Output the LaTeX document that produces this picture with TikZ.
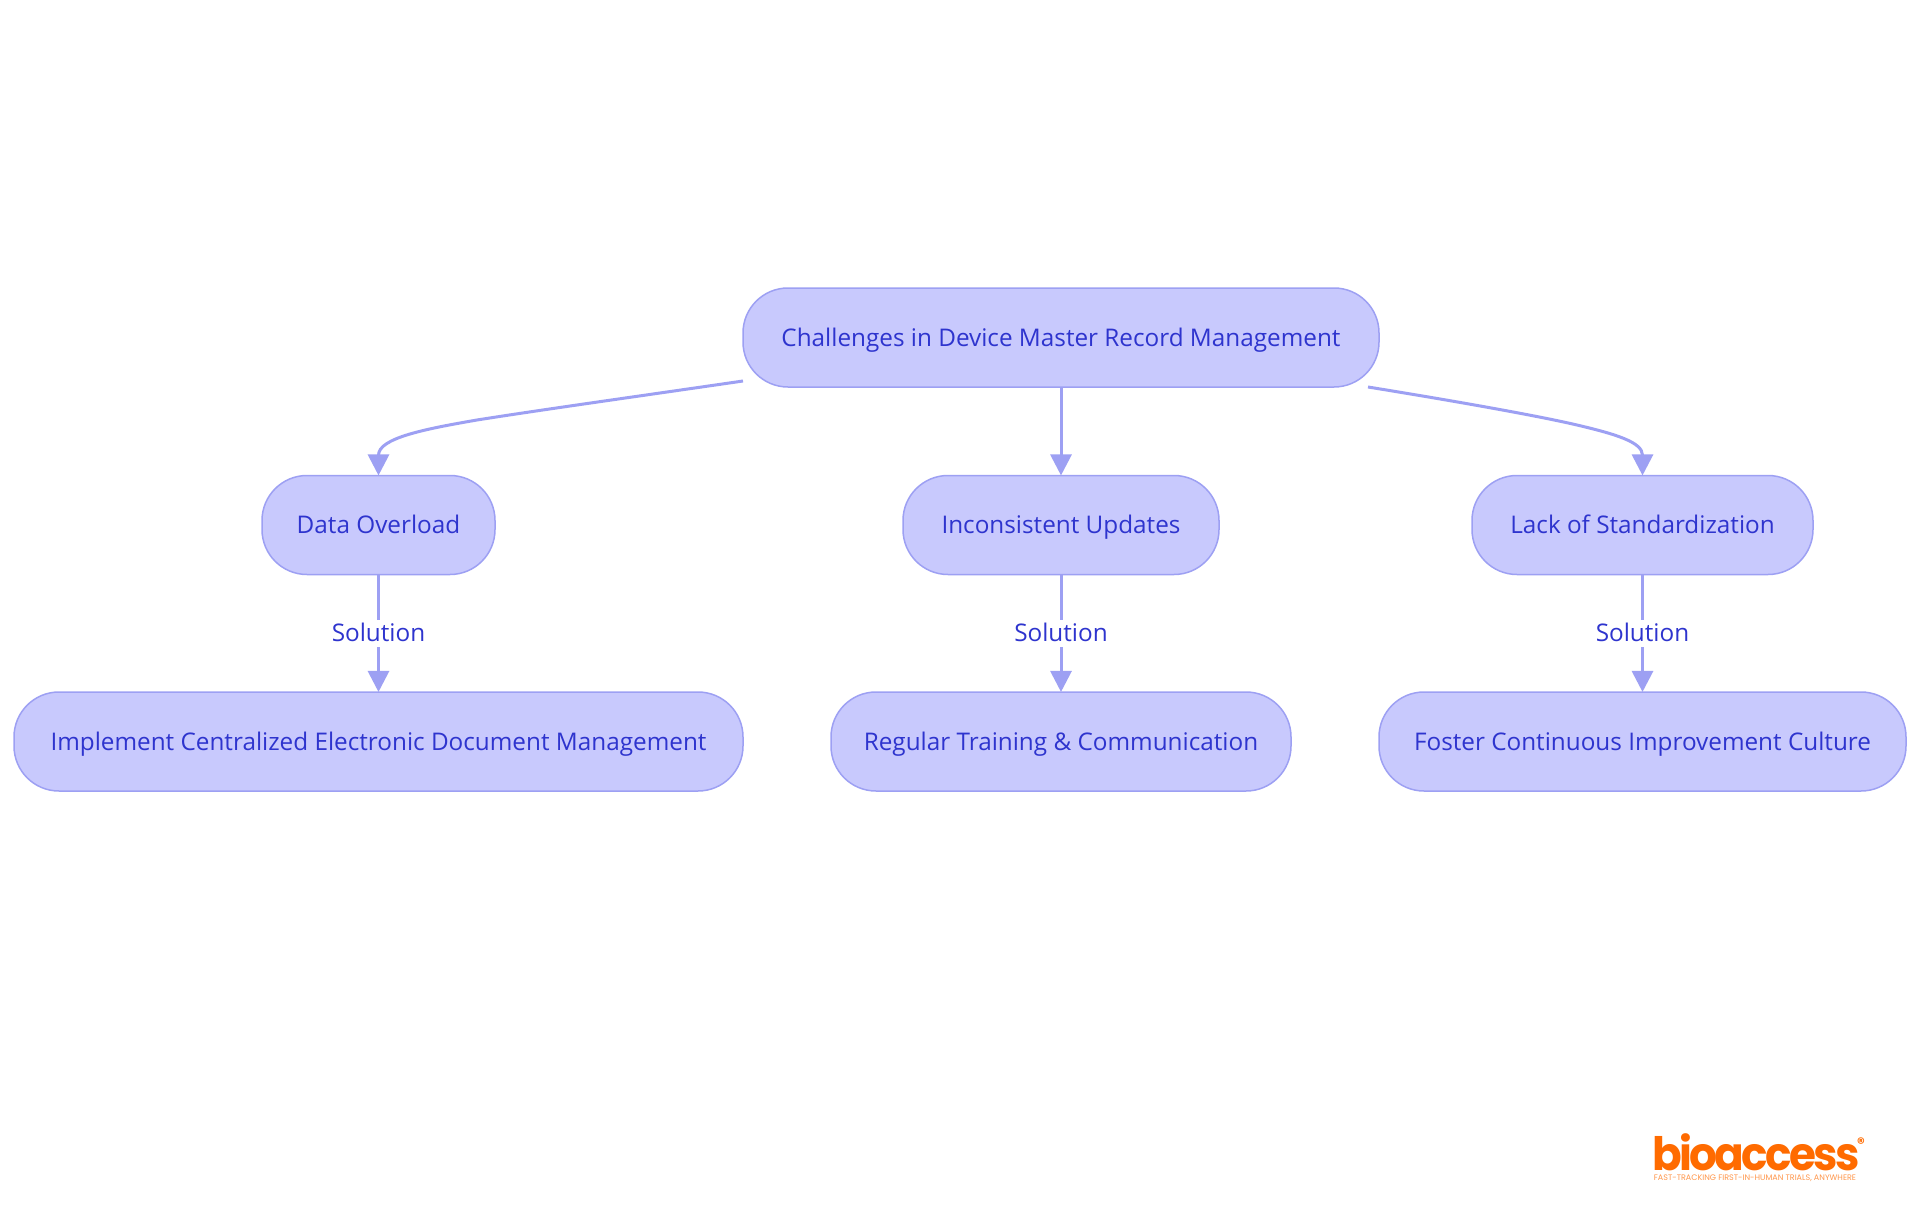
\documentclass[tikz,border=0pt]{standalone}
\usepackage{fontspec}
\setmainfont{Open Sans}
\newfontfamily\logofont{Poppins}
\newfontfamily\logotight[LetterSpace=-6]{Poppins}
\usetikzlibrary{arrows.meta}
\definecolor{nodefill}{HTML}{C8C9FD}
\definecolor{nodeline}{HTML}{9DA0F3}
\definecolor{nodetext}{HTML}{2E34CE}
\definecolor{logoorange}{HTML}{FF6B00}
\tikzset{
  box/.style={draw=nodeline,fill=nodefill,line width=1.5pt,rounded corners=45pt,minimum height=99pt,text=nodetext,font=\fontsize{24.3}{29}\selectfont,inner sep=0pt,anchor=center,text height=20pt,text depth=3pt},
  conn/.style={draw=nodeline,line width=3pt,shorten >=-0.7pt,-{Triangle[length=21pt,width=21pt]}},
  lab/.style={fill=white,text=nodetext,font=\fontsize{24.3}{29}\selectfont,inner xsep=2pt,inner ysep=2pt,text height=20pt,text depth=3pt}
}
\begin{document}
\begin{tikzpicture}[x=1pt,y=-1pt]
\useasboundingbox (0,0) rectangle (1920,1215);
\fill[white] (0,0) rectangle (1920,1215);
\node[box,minimum width=636pt] (root) at (1061,337.5) {Challenges in Device Master Record Management};
\node[box,minimum width=233pt] (data) at (378.5,525) {Data Overload};
\node[box,minimum width=316pt] (upd) at (1061,525) {Inconsistent Updates};
\node[box,minimum width=341pt] (std) at (1642.5,525) {Lack of Standardization};
\node[box,minimum width=729pt] (impl) at (378.5,741.5) {Implement Centralized Electronic Document Management};
\node[box,minimum width=460pt] (train) at (1061,741.5) {Regular Training \& Communication};
\node[box,minimum width=527pt] (cult) at (1642.5,741.5) {Foster Continuous Improvement Culture};
\coordinate (rl) at (743,381);
\coordinate (rr) at (1368,387);
\draw[conn] (rl) .. controls (640,396) and (540,410) .. (477,420) .. controls (425,429) and (378.5,438) .. (data.north);
\draw[conn] (root.south) -- (upd.north);
\draw[conn] (rr) .. controls (1430,397) and (1530,414) .. (1577,425) .. controls (1615,434) and (1642.5,442) .. (std.north);
\draw[conn] (data.south) -- node[lab] (l1) {Solution} (impl.north);
\draw[conn] (upd.south) -- node[lab] (l2) {Solution} (train.north);
\draw[conn] (std.south) -- node[lab] (l3) {Solution} (cult.north);
\node[inner sep=0pt,anchor=base,xscale=0.95,text=logoorange,text depth=0pt,font=\logotight\bfseries\fontsize{46}{46}\selectfont] (logo) at (1756,1170) {bioaccess};
\node[inner sep=0pt,text=logoorange,font=\logofont\bfseries\fontsize{15}{15}\selectfont] (reg) at (1861,1143) {®};
\node[inner sep=0pt,text=logoorange!70,font=\logofont\fontsize{8}{8}\selectfont] (tag) at (1755,1178) {FAST-TRACKING FIRST-IN-HUMAN TRIALS, ANYWHERE};
\end{tikzpicture}
\end{document}
